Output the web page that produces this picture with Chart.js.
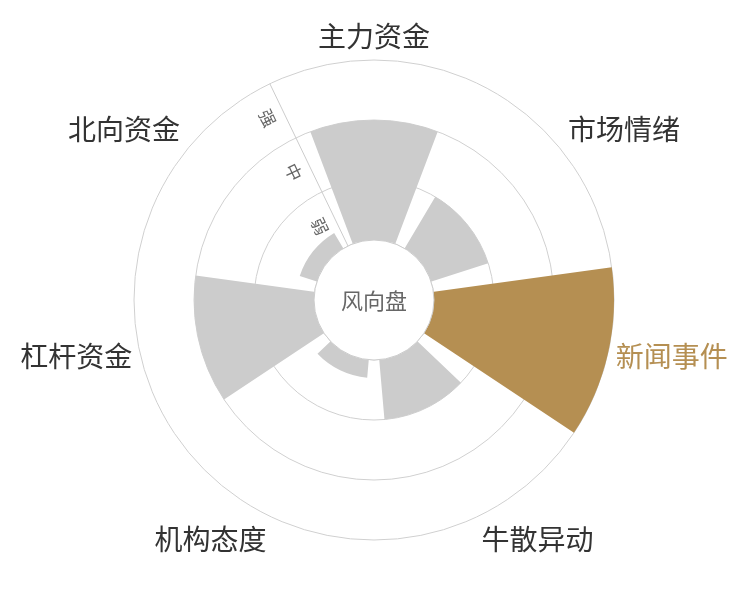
<!DOCTYPE html>
<html lang="zh-CN">
<head>
<meta charset="utf-8">
<title>风向盘</title>
<script src="https://cdn.jsdelivr.net/npm/chart.js@4.4.1/dist/chart.umd.min.js"></script>
<style>
  html, body { margin: 0; padding: 0; background: #fff; }
  #wrap { width: 750px; height: 600px; position: relative; }
</style>
</head>
<body>
<div id="wrap"><canvas id="windChart"></canvas></div>
<script>
// Wind dial data
const categories = ['主力资金', '市场情绪', '新闻事件', '牛散异动', '机构态度', '杠杆资金', '北向资金'];
const strength = [3, 2, 4, 2, 1.3, 3, 1.3];   // 1 = edge of the hole, 4 = outer ring
const levelNames = ['弱', '中', '强'];
const levelTicks = [1, 2, 3, 4];
const highlight = '新闻事件';

const GREY = '#cccccc';
const GOLD = '#b58f52';
const FONT = '"Noto Sans CJK SC", "Noto Sans", sans-serif';

const slotDeg = 360 / categories.length;
const gapDeg = 10;

// every category = a spacer (transparent) + the real sector, so sectors get angular gaps
const labels = [];
const values = [];
const angles = [];
const colors = [];
categories.forEach((c, i) => {
    labels.push('', c);
    values.push(0, strength[i]);
    angles.push(i === 0 ? gapDeg / 2 : gapDeg, slotDeg - gapDeg);
    colors.push('rgba(0,0,0,0)', c === highlight ? GOLD : GREY);
});

// hole in the middle + level names along the divider
const dialPlugin = {
    id: 'dial',
    afterDatasetsDraw(chart) {
        const scale = chart.scales.r;
        const ctx = chart.ctx;
        const cx = scale.xCenter;
        const cy = scale.yCenter;
        const holeR = scale.getDistanceFromCenterForValue(levelTicks[0]);

        ctx.save();
        ctx.beginPath();
        ctx.arc(cx, cy, holeR, 0, Math.PI * 2);
        ctx.fillStyle = '#fff';
        ctx.fill();
        ctx.lineWidth = 1;
        ctx.strokeStyle = '#cccccc';
        ctx.stroke();

        ctx.fillStyle = '#666';
        ctx.font = '22px ' + FONT;
        ctx.textAlign = 'center';
        ctx.textBaseline = 'middle';
        ctx.fillText('风向盘', cx, cy + 1);

        const a = scale.getIndexAngle(0) - Math.PI / 2;
        ctx.font = '17px ' + FONT;
        levelNames.forEach((txt, i) => {
            const r = scale.getDistanceFromCenterForValue((levelTicks[i] + levelTicks[i + 1]) / 2);
            const x = cx + Math.cos(a) * r + Math.cos(a - Math.PI / 2) * 17;
            const y = cy + Math.sin(a) * r + Math.sin(a - Math.PI / 2) * 17;
            ctx.save();
            ctx.translate(x, y);
            ctx.rotate(a + Math.PI);
            ctx.fillText(txt, 0, 0);
            ctx.restore();
        });
        ctx.restore();
    }
};

new Chart(document.getElementById('windChart'), {
    type: 'polarArea',
    data: {
        labels: labels,
        datasets: [{
            data: values,
            angle: (ctx) => angles[ctx.index],
            backgroundColor: colors,
            borderWidth: 0
        }]
    },
    options: {
        responsive: true,
        maintainAspectRatio: false,
        animation: false,
        layout: { padding: { top: 7, bottom: 33, left: 0, right: 0 } },
        plugins: {
            legend: { display: false },
            tooltip: { enabled: false }
        },
        scales: {
            r: {
                startAngle: -slotDeg / 2,
                min: 0,
                max: 4,
                ticks: { display: false, stepSize: 1 },
                grid: { color: '#d0d0d0', lineWidth: 1, circular: true },
                angleLines: {
                    display: true,
                    lineWidth: 1,
                    color: (ctx) => ctx.index === 0 ? '#cccccc' : 'rgba(0,0,0,0)'
                },
                pointLabels: {
                    display: true,
                    centerPointLabels: false,
                    padding: (ctx) => ctx.label ? 8 : 0,
                    color: (ctx) => ctx.label === highlight ? GOLD : '#333',
                    font: (ctx) => {
                        const ang = ctx.scale.getIndexAngle(ctx.index);
                        const side = Math.abs(Math.cos(ang)) < 0.4;
                        let lh = '32px';
                        if (!ctx.label) lh = '0px';
                        else if (side) lh = '2px';
                        return { family: FONT, size: 28, lineHeight: lh };
                    }
                }
            }
        }
    },
    plugins: [dialPlugin]
});
</script>
</body>
</html>
